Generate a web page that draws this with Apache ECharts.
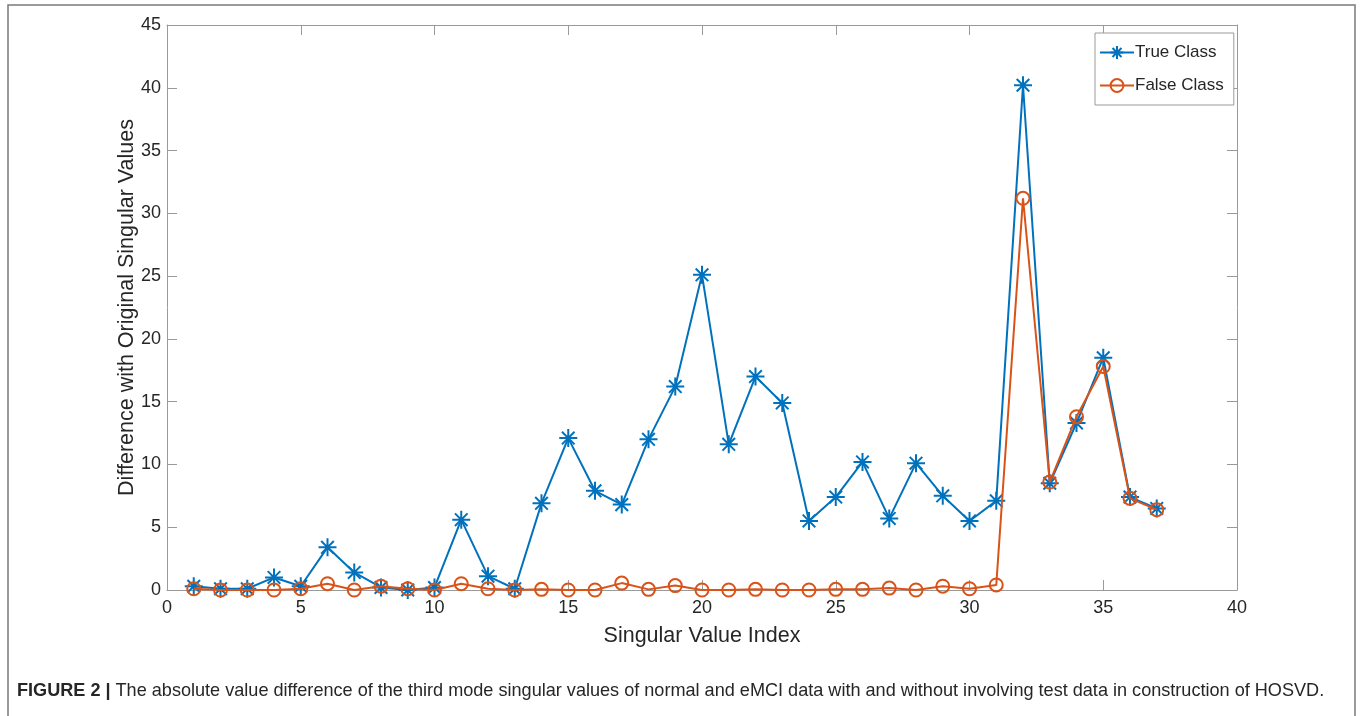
<!DOCTYPE html>
<html>
<head>
<meta charset="utf-8">
<script src="https://cdn.jsdelivr.net/npm/echarts@6/dist/echarts.min.js"></script>
<style>
html,body{margin:0;padding:0;background:#fff;}
#chart{width:1363px;height:716px;}
</style>
</head>
<body>
<div id="chart"></div>
<script>
const indices = [1,2,3,4,5,6,7,8,9,10,11,12,13,14,15,16,17,18,19,20,21,22,23,24,25,26,27,28,29,30,31,32,33,34,35,36,37];
const trueClass = [0.3,0.1,0.1,1.0,0.3,3.4,1.4,0.2,0.0,0.2,5.6,1.1,0.1,6.9,12.1,7.9,6.8,12.0,16.2,25.1,11.6,17.0,14.9,5.5,7.4,10.2,5.7,10.1,7.5,5.5,7.1,40.2,8.5,13.3,18.5,7.4,6.5];
const falseClass = [0.1,0.0,0.0,0.0,0.1,0.5,0.0,0.3,0.1,0.0,0.5,0.1,0.0,0.05,0.0,0.0,0.55,0.05,0.35,0.0,0.0,0.05,0.0,0.0,0.05,0.05,0.15,0.0,0.3,0.1,0.4,31.2,8.6,13.8,17.8,7.3,6.4];
const xTitle = 'Singular Value Index';
const yTitle = 'Difference with Original Singular Values';
const seriesNames = ['True Class','False Class'];
const captionLead = 'FIGURE 2 |';
const caption = 'The absolute value difference of the third mode singular values of normal and eMCI data with and without involving test data in construction of HOSVD.';

const BLUE = '#0072BD', ORANGE = '#D95319', AXIS = '#9a9a9a', TXT = '#262626';
const FONT = 'Liberation Sans, Arial, sans-serif';
const starPath = 'path://M10,0L10,20M0,10L20,10M3,3L17,17M3,17L17,3';

const chart = echarts.init(document.getElementById('chart'), null, {renderer:'canvas'});
const pairs = arr => arr.map((v,i)=>[indices[i], v]);

const axisCommon = () => ({
  type:'value',
  axisLine:{show:true, onZero:false, lineStyle:{color:AXIS, width:1}},
  axisTick:{show:true, inside:true, length:10, lineStyle:{color:AXIS}},
  splitLine:{show:false},
});

chart.setOption({
  animation:false,
  backgroundColor:'#fff',
  textStyle:{fontFamily:FONT},
  grid:{left:167, right:126, top:25, bottom:126, containLabel:false},
  legend:{
    orient:'vertical', left:1095, top:33,
    backgroundColor:'#fff', borderColor:'#9a9a9a', borderWidth:1,
    padding:[11,10,11,4], itemGap:16, itemWidth:34, itemHeight:16,
    textStyle:{fontSize:17, color:TXT, padding:[0,0,0,-4]},
    data:seriesNames
  },
  xAxis:[
    Object.assign(axisCommon(), {min:0, max:40, interval:5, position:'bottom',
      axisLabel:{fontSize:18, color:TXT, margin:9},
      name:xTitle, nameLocation:'middle', nameGap:35, nameMoveOverlap:false, nameTextStyle:{fontSize:21.5, color:TXT}}),
    Object.assign(axisCommon(), {min:0, max:40, interval:5, position:'top', axisLabel:{show:false}})
  ],
  yAxis:[
    Object.assign(axisCommon(), {min:0, max:45, interval:5, position:'left',
      axisLabel:{fontSize:18, color:TXT, margin:6},
      name:yTitle, nameLocation:'middle', nameGap:29, nameMoveOverlap:false, nameTextStyle:{fontSize:21.5, color:TXT}}),
    Object.assign(axisCommon(), {min:0, max:45, interval:5, position:'right', axisLabel:{show:false}})
  ],
  graphic:[
    {type:'rect', shape:{x:8, y:5, width:1347, height:760}, style:{fill:'none', stroke:'#7a7a7a', lineWidth:1.5}, silent:true, z:-1},
    {type:'text', left:17, top:682, style:{
      text:'{b|' + captionLead + '} ' + caption,
      rich:{b:{fontWeight:'bold', fontSize:18.1, fill:TXT, fontFamily:FONT}},
      fontSize:18.1, fill:TXT, fontFamily:FONT
    }}
  ],
  series:[
    {name:seriesNames[0], type:'line', data:pairs(trueClass), color:BLUE,
      xAxisIndex:0, yAxisIndex:0,
      symbol:starPath, symbolSize:18, showAllSymbol:true,
      lineStyle:{color:BLUE, width:2},
      itemStyle:{color:'rgba(0,0,0,0)', borderColor:BLUE, borderWidth:2}, z:2},
    {name:seriesNames[1], type:'line', data:pairs(falseClass), color:ORANGE,
      xAxisIndex:0, yAxisIndex:0,
      symbol:'circle', symbolSize:13, showAllSymbol:true,
      lineStyle:{color:ORANGE, width:2},
      itemStyle:{color:'rgba(255,255,255,0)', borderColor:ORANGE, borderWidth:2}, z:3}
  ]
});
</script>
</body>
</html>
